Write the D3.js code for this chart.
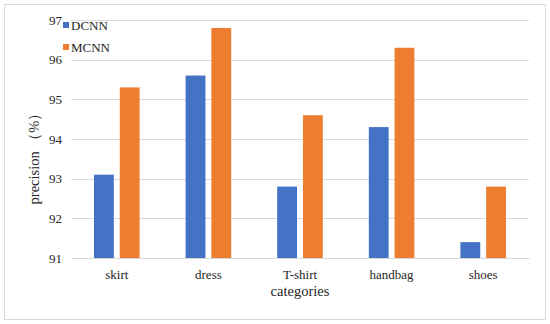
<!DOCTYPE html>
<html lang="en">
  <head>
    <meta charset="UTF-8" />
    <script src="https://cdn.jsdelivr.net/npm/d3@7"></script>
    <style>
      body { margin: 0; background: #fff; }
      svg text { font-family: "Liberation Serif", "Times New Roman", serif; fill: #262626; }
    </style>
  </head>
  <body>
    <svg id="chart" width="550" height="324"></svg>
    <script>
      var categories = ["skirt", "dress", "T-shirt", "handbag", "shoes"];
      var seriesNames = ["DCNN", "MCNN"];
      var dcnn = [93.1, 95.6, 92.8, 94.3, 91.4];
      var mcnn = [95.3, 96.8, 94.6, 96.3, 92.8];
      var yTicks = [91, 92, 93, 94, 95, 96, 97];
      var colors = ["#4472C4", "#ED7D31"];

      var svg = d3.select("#chart");
      var margin = { left: 71, right: 21, top: 20, bottom: 66 };
      var width = 550 - margin.left - margin.right;
      var height = 324 - margin.top - margin.bottom;
      var serif = '"Liberation Serif", "Times New Roman", serif';

      // outer frame
      svg.append("rect")
        .attr("x", 4.5).attr("y", 4.5)
        .attr("width", 541).attr("height", 315)
        .attr("fill", "#fff").attr("stroke", "#d9d9d9");

      var g = svg.append("g")
        .attr("transform", "translate(" + margin.left + "," + margin.top + ")");

      var x = d3.scaleBand().domain(categories).range([0, width]).paddingInner(0).paddingOuter(0);
      var x1 = d3.scaleBand().domain(seriesNames).range([23, x.bandwidth() - 23]).paddingInner(0.23);
      var y = d3.scaleLinear().domain([91, 97]).range([height, 0]);

      // gridlines
      g.selectAll(".grid").data(yTicks).enter().append("line")
        .attr("x1", 0).attr("x2", width)
        .attr("y1", d => Math.round(y(d)) + 0.5).attr("y2", d => Math.round(y(d)) + 0.5)
        .attr("stroke", "#d9d9d9").attr("stroke-width", 1);

      var yAxis = g.append("g")
        .call(d3.axisLeft(y).tickValues(yTicks).tickFormat(d3.format("d")).tickSize(0).tickPadding(9))
        .attr("font-family", serif).attr("font-size", 13);
      yAxis.select(".domain").remove();
      yAxis.selectAll("text").attr("fill", "#262626");

      var rows = categories.map((c, i) => ({ cat: c, vals: [dcnn[i], mcnn[i]] }));
      var groups = g.selectAll(".cat").data(rows).enter().append("g")
        .attr("transform", d => "translate(" + x(d.cat) + ",0)");
      groups.selectAll("rect")
        .data(d => d.vals.map((v, j) => ({ name: seriesNames[j], v: v, j: j })))
        .enter().append("rect")
        .attr("x", d => x1(d.name))
        .attr("width", x1.bandwidth())
        .attr("y", d => y(d.v))
        .attr("height", d => y(91) - y(d.v))
        .attr("fill", d => colors[d.j]);

      var xAxis = g.append("g").attr("transform", "translate(0," + height + ")")
        .call(d3.axisBottom(x).tickSize(0).tickPadding(12))
        .attr("font-family", serif).attr("font-size", 13);
      xAxis.select(".domain").attr("stroke", "#d9d9d9");
      xAxis.selectAll("text").attr("fill", "#262626");

      // axis titles
      svg.append("text")
        .attr("x", margin.left + width / 2).attr("y", 296)
        .attr("text-anchor", "middle").style("font-size", "14.5px")
        .text("categories");
      svg.append("text")
        .attr("transform", "translate(34,155) rotate(-90)")
        .attr("text-anchor", "middle").attr("dominant-baseline", "central")
        .style("font-size", "14.5px")
        .text("precision （%）");

      // legend
      var legend = svg.selectAll(".legend").data(seriesNames).enter().append("g")
        .attr("transform", (d, i) => "translate(63," + (22 + i * 22) + ")");
      legend.append("rect").attr("width", 6).attr("height", 6).attr("fill", (d, i) => colors[i]);
      legend.append("text").attr("x", 8).attr("y", 3)
        .attr("dominant-baseline", "central").style("font-size", "13px")
        .text(d => d);
    </script>
  </body>
</html>
